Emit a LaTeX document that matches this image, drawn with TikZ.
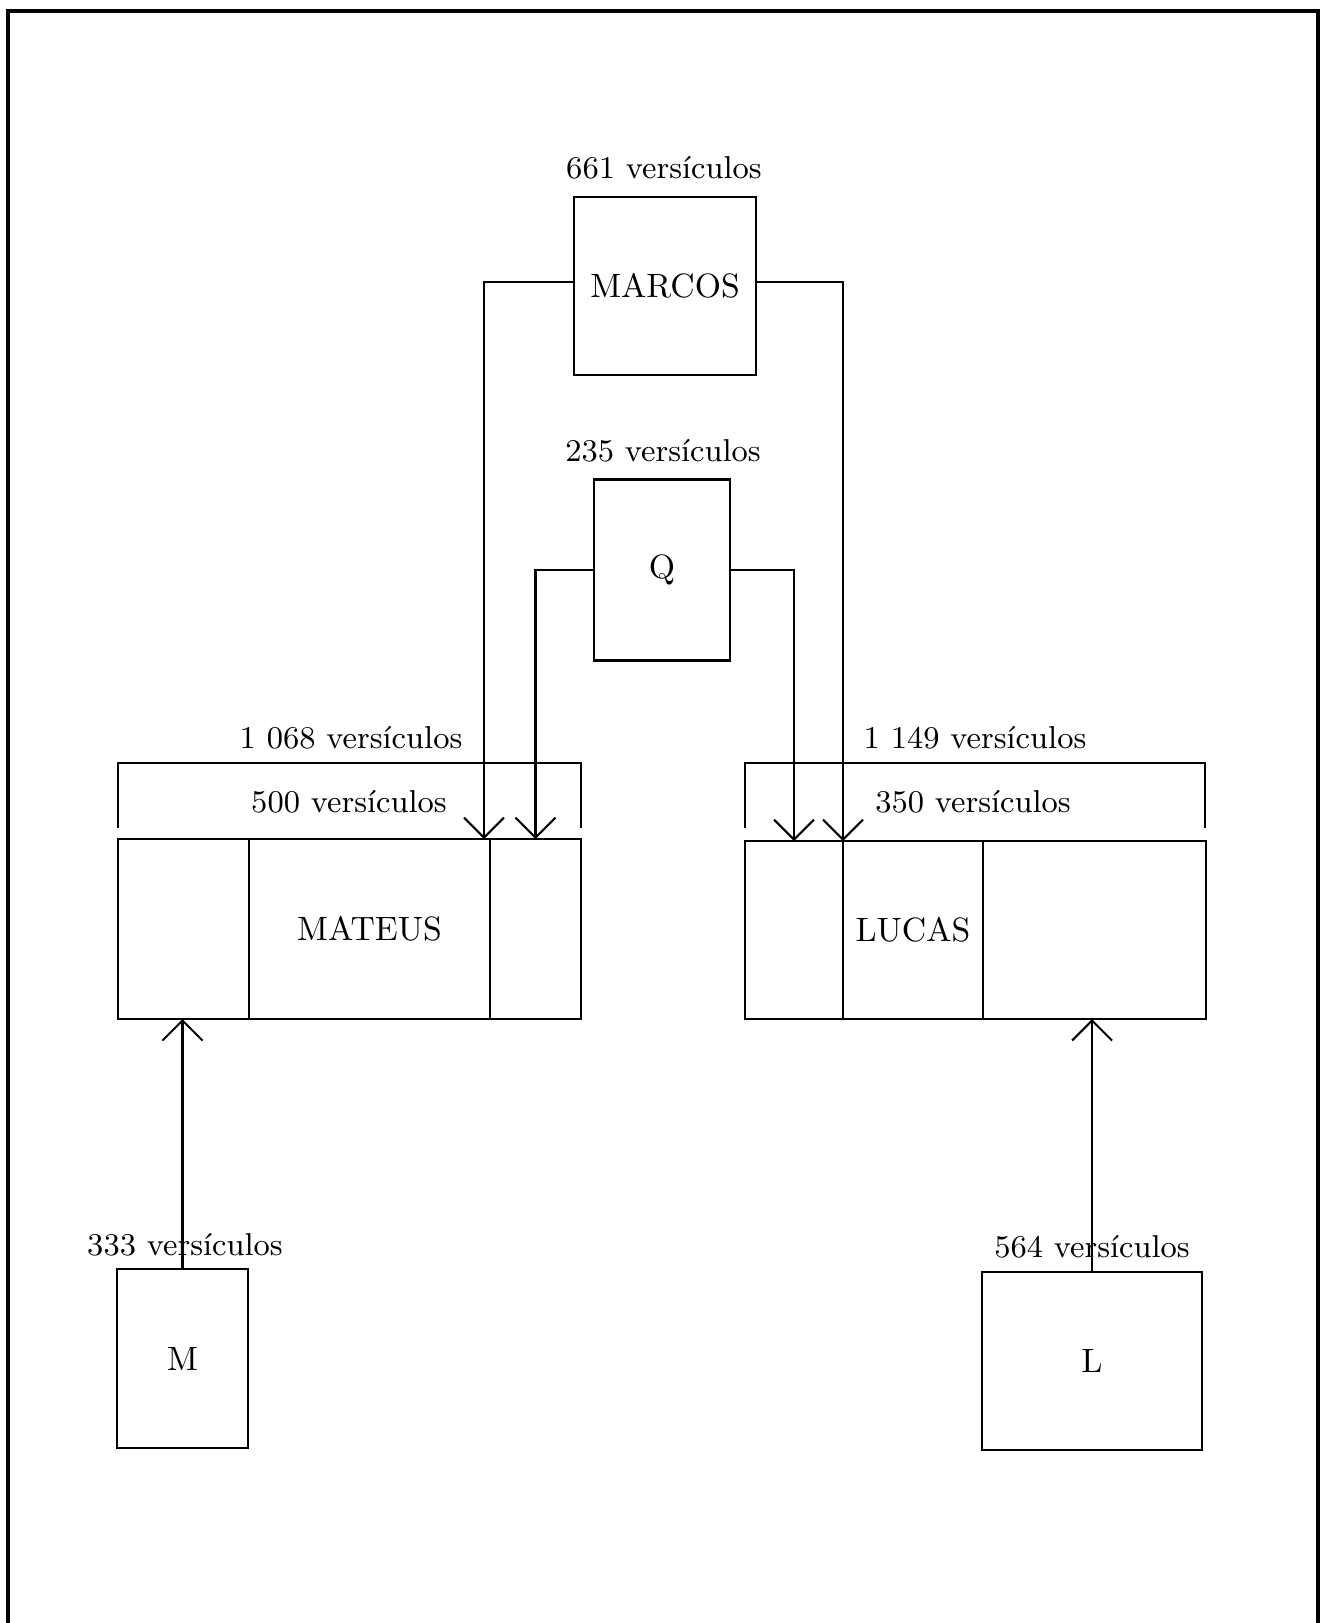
\documentclass[tikz,border=0pt]{standalone}
\usepackage{tikz}
\usetikzlibrary{arrows.meta}

\begin{document}
\begin{tikzpicture}[x=0.1mm,y=-0.1mm,line width=.6pt,
    box/.style={draw,rectangle,inner sep=0pt,outer sep=0pt,font=\fontsize{9.6}{11}\selectfont},
    lbl/.style={inner sep=0pt,font=\fontsize{9}{11}\selectfont},
    arr/.style={-{Straight Barb[length=2mm,width=4mm]}}]
    \useasboundingbox (0,0) rectangle (1324,1623);
    \draw[line width=.9pt] (8,1623) -- (8,11) -- (1318,11) -- (1318,1623);
    % sources
    \node[box,minimum width=18.2mm,minimum height=17.8mm] (marcos) at (665,286) {MARCOS};
    \node[lbl] (marcos-n) at (664,168) {661 versículos};
    \node[box,minimum width=13.6mm,minimum height=18.1mm] (q) at (662,570) {Q};
    \node[lbl] (q-n) at (663,451) {235 versículos};
    \node[box,minimum width=13.1mm,minimum height=17.9mm] (m) at (182.5,1358.5) {M};
    \node[lbl] (m-n) at (185,1245) {333 versículos};
    \node[box,minimum width=22mm,minimum height=17.8mm] (l) at (1092,1361) {L};
    \node[lbl] (l-n) at (1092,1247) {564 versículos};
    % Mateus
    \node[box,minimum width=13.1mm,minimum height=18mm] (mtA) at (183.5,929) {};
    \node[box,minimum width=24.1mm,minimum height=18mm,anchor=west] (mateus) at (mtA.east) {MATEUS};
    \node[box,minimum width=9.1mm,minimum height=18mm,anchor=west] (mtC) at (mateus.east) {};
    \draw (118,828) -- (118,763) -- (581,763) -- (581,828);
    \node[lbl] (mateus-n) at (351,738) {1~068 versículos};
    \node[lbl] (mateus-mc) at (349,802) {500 versículos};
    % Lucas
    \node[box,minimum width=9.8mm,minimum height=17.8mm] (lcA) at (794,930) {};
    \node[box,minimum width=14mm,minimum height=17.8mm,anchor=west] (lucas) at (lcA.east) {LUCAS};
    \node[box,minimum width=22.3mm,minimum height=17.8mm,anchor=west] (lcC) at (lucas.east) {};
    \draw (745,828) -- (745,763) -- (1205,763) -- (1205,828);
    \node[lbl] (lucas-n) at (975,738) {1~149 versículos};
    \node[lbl] (lucas-mc) at (973,802) {350 versículos};
    % arrows
    \draw[arr] ([yshift=.4mm]marcos.west) -| ([xshift=-.6mm]mateus.north east);
    \draw[arr] ([yshift=.4mm]marcos.east) -| (lucas.north west);
    \draw[arr] (q.west) -| (mtC.north);
    \draw[arr] (q.east) -| (lcA.north);
    \draw[arr] (m.north) -- (m.north |- mtA.south);
    \draw[arr] (l.north) -- (l.north |- lcC.south);
\end{tikzpicture}
\end{document}
